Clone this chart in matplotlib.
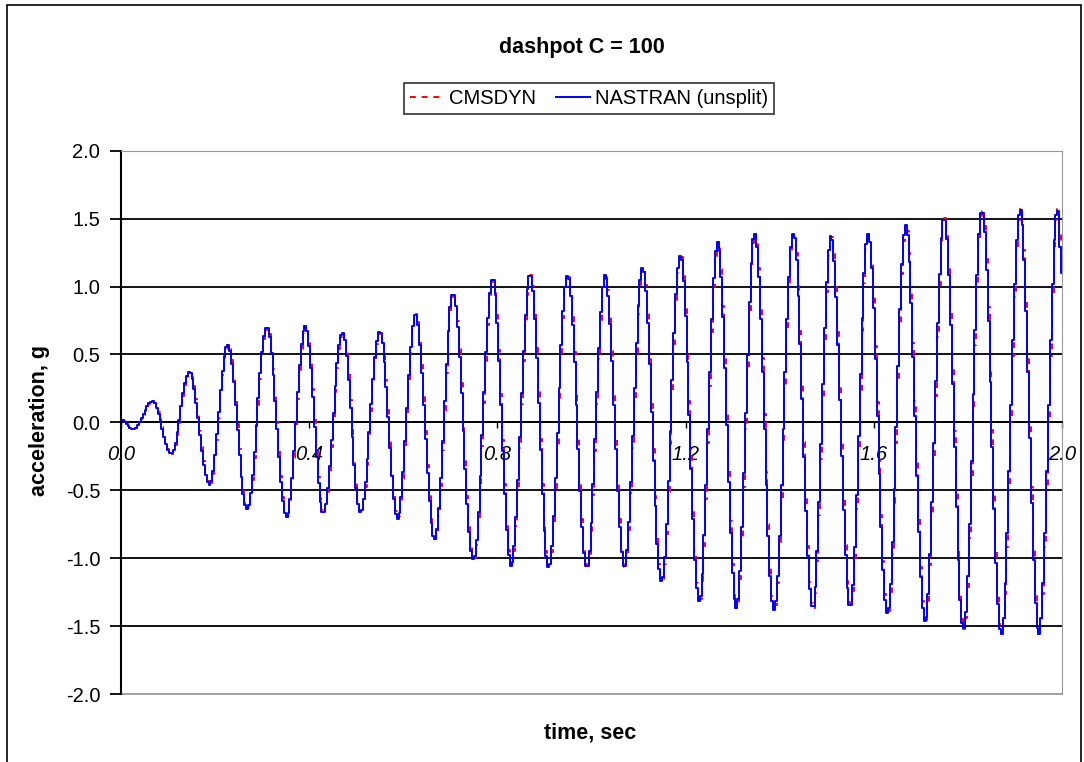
import numpy as np
import matplotlib.pyplot as plt
from matplotlib.lines import Line2D

plt.rcParams['font.family'] = ['Liberation Sans', 'DejaVu Sans']

# extrema of the response (time in s, acceleration in g)
t_ext = [0.000, 0.026, 0.067, 0.107, 0.145, 0.188, 0.227, 0.268, 0.310, 0.352,
         0.392, 0.430, 0.471, 0.509, 0.550, 0.588, 0.626, 0.667, 0.706, 0.749,
         0.790, 0.829, 0.870, 0.909, 0.949, 0.990, 1.029, 1.070, 1.109, 1.149,
         1.189, 1.229, 1.268, 1.308, 1.347, 1.388, 1.429, 1.470, 1.509, 1.550,
         1.588, 1.629, 1.668, 1.709, 1.750, 1.791, 1.830, 1.871, 1.911, 1.951,
         1.991, 2.000]
a_ext = [0.02, -0.05, 0.155, -0.23, 0.37, -0.46, 0.57, -0.64, 0.70, -0.70,
         0.71, -0.67, 0.66, -0.66, 0.67, -0.71, 0.80, -0.86, 0.95, -1.01,
         1.06, -1.06, 1.09, -1.07, 1.08, -1.07, 1.085, -1.07, 1.14, -1.17,
         1.23, -1.32, 1.33, -1.37, 1.39, -1.38, 1.39, -1.37, 1.38, -1.36,
         1.39, -1.41, 1.45, -1.47, 1.51, -1.52, 1.56, -1.56, 1.57, -1.56,
         1.57, 1.10]

dt = 0.004          # output step of the solver (stair look)
cms_lag = 0.001     # CMSDYN trace sits ~1 px off the NASTRAN one

y_ticks = [-2.0, -1.5, -1.0, -0.5, 0.0, 0.5, 1.0, 1.5, 2.0]
x_ticks = [0.0, 0.4, 0.8, 1.2, 1.6, 2.0]


def trace(t):
    # half-cosine between neighbouring extrema
    te = np.array(t_ext)
    ae = np.array(a_ext)
    i = np.clip(np.searchsorted(te, t, side='right') - 1, 0, len(te) - 2)
    f = (t - te[i]) / (te[i + 1] - te[i])
    return ae[i] + (ae[i + 1] - ae[i]) * (1 - np.cos(np.pi * f)) / 2


t = np.arange(0, 2.0 + dt / 2, dt)
nastran = trace(t)
cmsdyn = trace(np.clip(t - cms_lag, 0, 2.0))

W, H = 1084, 762
fig = plt.figure(figsize=(W / 100, H / 100), dpi=100)

# outer chart frame
fig.add_artist(plt.Rectangle((7 / W, -0.05), (1081 - 7) / W, 1.05 - 5 / H,
                             transform=fig.transFigure, fill=False,
                             edgecolor='black', lw=1.2))

left, right, top, bottom = 121, 1062, 150.7, 694
ax = fig.add_axes([left / W, 1 - bottom / H, (right - left) / W, (bottom - top) / H])

ax.plot(t, cmsdyn, color='red', lw=1.4, ls=(0, (3, 3)), drawstyle='steps-mid', zorder=3)
ax.plot(t, nastran, color='blue', lw=1.4, drawstyle='steps-mid', zorder=4)

ax.set_xlim(0, 2.0)
ax.set_ylim(-2.0, 2.0)

for v in y_ticks[1:-1]:
    ax.axhline(v, color='black', lw=1.3, zorder=1)

ax.spines['bottom'].set_position(('data', 0))
ax.spines['bottom'].set_color('black')
ax.spines['bottom'].set_linewidth(1.3)
ax.spines['left'].set_linewidth(1.5)
ax.spines['top'].set_color('#999999')
ax.spines['right'].set_color('#999999')
ax.axhline(-2.0, color='#999999', lw=1.3, clip_on=False)

ax.set_yticks(y_ticks)
ax.set_yticklabels(['%.1f' % v for v in y_ticks])
ax.set_xticks(x_ticks)
ax.set_xticklabels(['%.1f' % v for v in x_ticks])
ax.tick_params(axis='y', direction='out', length=8, width=1.3, pad=7, labelsize=14.5)
ax.tick_params(axis='x', direction='out', length=4, width=1.0, pad=12, labelsize=14.5)
for lab in ax.get_xticklabels():
    lab.set_style('italic')

fig.text(582 / W, 1 - 48 / H, 'dashpot C = 100', ha='center', va='center',
         fontsize=15.5, fontweight='bold')
fig.text(40 / W, 1 - 420 / H, 'acceleration, g', ha='center', va='center',
         rotation=90, fontsize=15.5, fontweight='bold')
fig.text(590 / W, 1 - 733 / H, 'time, sec', ha='center', va='center',
         fontsize=15.5, fontweight='bold')

handles = [Line2D([], [], color='red', lw=1.4, ls=(0, (3, 3))),
           Line2D([], [], color='blue', lw=1.4)]
leg = fig.legend(handles, ['CMSDYN', 'NASTRAN (unsplit)'], loc='center',
                 bbox_to_anchor=(589 / W, 1 - 98.5 / H), ncol=2, fontsize=14.5,
                 frameon=True, fancybox=False, handlelength=1.7,
                 handletextpad=0.25, columnspacing=1.0, borderpad=0.3,
                 borderaxespad=0)
leg.get_frame().set_edgecolor('black')
leg.get_frame().set_linewidth(1.2)

fig.savefig('out.png', dpi=100)
